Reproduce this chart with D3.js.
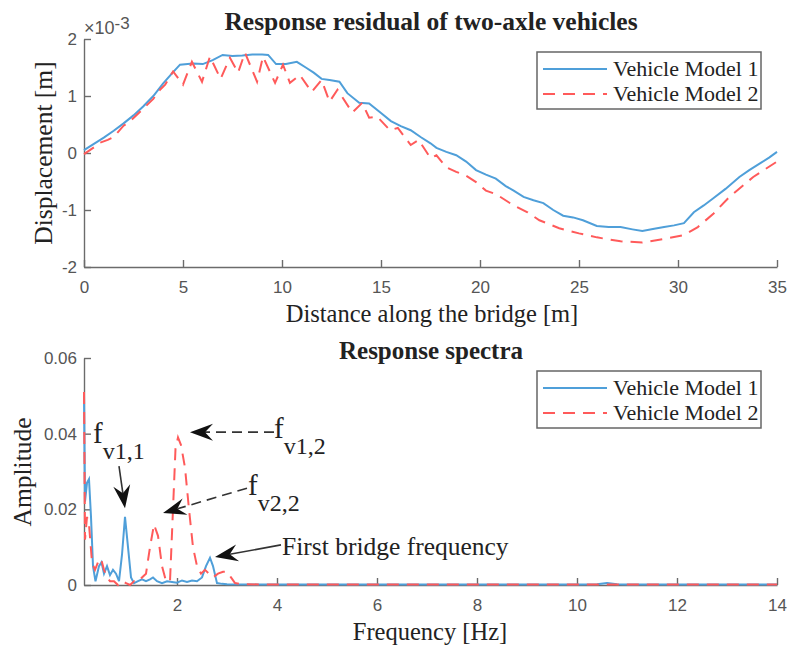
<!DOCTYPE html>
<html><head><meta charset="utf-8">
<script src="https://cdn.jsdelivr.net/npm/d3@7"></script>
<style>
body{margin:0;background:#fff;}
svg{display:block;}
.tick text{font-family:"Liberation Sans",Arial,sans-serif;font-size:17px;fill:#555;}
.serif{font-family:"Liberation Serif","Times New Roman",serif;fill:#222;}
</style></head>
<body>
<svg id="c" width="792" height="650"></svg>
<script>
// ---------- Top chart data (displacement in units of 1e-3 m) ----------
const seriesNames = ["Vehicle Model 1", "Vehicle Model 2"];
const distX1 = [0,0.5,1,1.5,2,2.5,3,3.5,4,4.5,4.85,5.5,6,6.5,7,7.5,8,8.5,9,9.3,9.7,10.2,10.75,11.2,11.6,12,12.4,12.9,13.3,13.9,14.4,15,15.5,16,16.5,17,17.5,17.8,18.3,18.8,19.3,19.8,20.3,20.8,21.3,21.7,22.2,22.7,23.2,23.7,24.2,24.7,25.2,25.9,26.5,27.1,27.7,28.2,28.8,29.3,29.8,30.3,30.8,31.3,31.8,32.4,33.1,33.6,34.2,34.6,35];
const dispY1 = [0.05,0.16,0.27,0.39,0.52,0.66,0.82,1.0,1.22,1.42,1.55,1.57,1.56,1.63,1.72,1.70,1.71,1.73,1.73,1.72,1.56,1.56,1.60,1.50,1.41,1.30,1.28,1.25,1.05,0.88,0.87,0.70,0.56,0.47,0.40,0.28,0.17,0.09,0.02,-0.04,-0.15,-0.30,-0.38,-0.45,-0.58,-0.66,-0.77,-0.83,-0.88,-1.00,-1.10,-1.13,-1.18,-1.28,-1.30,-1.30,-1.34,-1.37,-1.33,-1.30,-1.27,-1.23,-1.04,-0.92,-0.79,-0.63,-0.42,-0.30,-0.17,-0.08,0.02];
const distX2 = [0,0.5,0.8,1.2,1.5,2,2.3,2.7,3,3.5,3.84,4.1,4.5,5.0,5.45,5.96,6.36,6.9,7.37,7.78,8.13,8.74,9.04,9.65,10.05,10.4,10.9,11.5,12.0,12.4,12.8,13.55,14.05,14.4,14.8,15.45,15.85,16.5,16.9,17.5,17.8,18.3,18.8,19.3,19.8,20.3,20.8,21.7,22.4,23.0,24.0,25.0,25.9,27.1,28.2,29.4,30.3,31.0,31.8,32.6,33.8,35];
const dispY2 = [-0.02,0.10,0.18,0.23,0.28,0.48,0.55,0.68,0.78,0.95,1.11,1.20,1.43,1.20,1.60,1.25,1.69,1.30,1.67,1.41,1.76,1.25,1.69,1.23,1.55,1.23,1.37,1.07,1.28,0.90,1.11,0.71,0.88,0.62,0.64,0.40,0.44,0.14,0.23,-0.09,-0.04,-0.25,-0.33,-0.40,-0.51,-0.66,-0.72,-0.92,-1.04,-1.18,-1.32,-1.41,-1.48,-1.55,-1.57,-1.50,-1.44,-1.30,-1.06,-0.77,-0.42,-0.15];
const topXTicks = [0,5,10,15,20,25,30,35];
const topYTicks = [-2,-1,0,1,2];

// ---------- Bottom chart data (amplitude spectra) ----------
const freq1 = [0.14,0.16,0.20,0.24,0.28,0.32,0.37,0.44,0.49,0.54,0.60,0.66,0.72,0.78,0.84,0.90,0.96,1.02,1.08,1.14,1.22,1.30,1.38,1.46,1.52,1.60,1.70,1.80,1.90,2.00,2.10,2.20,2.30,2.40,2.50,2.58,2.66,2.72,2.80,2.90,3.00,4.0,6.0,8.0,10.0,10.4,10.6,10.8,11.0,12.0,14.0];
const amp1 = [0.050,0.022,0.027,0.028,0.018,0.005,0.001,0.005,0.006,0.003,0.005,0.0026,0.004,0.003,0.001,0.008,0.018,0.010,0.002,0.0005,0.001,0.0015,0.001,0.0015,0.002,0.001,0.0005,0.001,0.0008,0.0006,0.0012,0.0008,0.0012,0.001,0.002,0.005,0.0072,0.005,0.0005,0.0003,0.0002,0.0001,0.0001,0.0001,0.0001,0.0002,0.0005,0.0002,0.0001,0.0001,0.0001];
const freq2 = [0.14,0.16,0.20,0.24,0.30,0.36,0.42,0.48,0.54,0.60,0.66,0.74,0.82,0.90,0.98,1.06,1.14,1.22,1.30,1.38,1.46,1.54,1.62,1.70,1.78,1.86,1.92,1.97,2.02,2.08,2.16,2.24,2.32,2.40,2.48,2.56,2.64,2.72,2.82,2.92,3.00,3.08,3.16,3.30,4.0,6.0,8.0,10.0,12.0,14.0];
const amp2 = [0.051,0.012,0.018,0.016,0.006,0.004,0.006,0.007,0.004,0.002,0.001,0.001,0.0,0.001,0.0005,0.0,0.001,0.0008,0.002,0.003,0.010,0.016,0.013,0.005,0.001,0.001,0.020,0.036,0.039,0.037,0.031,0.020,0.010,0.005,0.003,0.004,0.003,0.002,0.003,0.0035,0.0035,0.002,0.0005,0.0002,0.0001,0.0001,0.0001,0.0001,0.0001,0.0001];
const botXTicks = [2,4,6,8,10,12,14];
const botYTicks = [0,0.02,0.04,0.06];

const annLabels = ["f","f","f","First bridge frequency"];
const annSubs = ["v1,1","v1,2","v2,2",""];

const svg = d3.select("#c");
const BLUE = "#4f9fd9", RED = "#ff5a5a", AX = "#6b6b6b";

function styleAxis(g){
  g.select(".domain").attr("stroke", AX).attr("stroke-width", 1.4);
  g.selectAll(".tick line").attr("stroke", AX).attr("stroke-width", 1.4);
}

function legend(x0, y0){
  const g = svg.append("g");
  g.append("rect").attr("x", x0).attr("y", y0).attr("width", 224).attr("height", 57)
    .attr("fill", "#fff").attr("stroke", "#666").attr("stroke-width", 1.5);
  [[BLUE, null], [RED, "12,8"]].forEach((s, i) => {
    const yy = y0 + 17 + i * 25;
    g.append("line").attr("x1", x0 + 6).attr("x2", x0 + 70).attr("y1", yy).attr("y2", yy)
      .attr("stroke", s[0]).attr("stroke-width", 2).attr("stroke-dasharray", s[1]);
    g.append("text").attr("class", "serif").attr("x", x0 + 76).attr("y", yy + 7)
      .attr("font-size", 22).text(seriesNames[i]);
  });
}

// ---------------- TOP ----------------
const xT = d3.scaleLinear([0, 35], [84, 777]);
const yT = d3.scaleLinear([-2, 2], [267, 39]);

const gxT = svg.append("g").attr("transform", `translate(0,${yT(-2)})`)
  .call(d3.axisBottom(xT).tickValues(topXTicks).tickFormat(d => String(d)).tickSizeInner(-7).tickSizeOuter(0).tickPadding(14));
styleAxis(gxT);
const gyT = svg.append("g").attr("transform", `translate(${xT(0)},0)`)
  .call(d3.axisLeft(yT).tickValues(topYTicks).tickFormat(d => String(d)).tickSizeInner(-7).tickSizeOuter(0).tickPadding(7));
styleAxis(gyT);

const lineT = d3.line().x(d => xT(d[0])).y(d => yT(d[1]));
svg.append("path").datum(d3.zip(distX1, dispY1)).attr("d", lineT)
  .attr("fill", "none").attr("stroke", BLUE).attr("stroke-width", 2);
svg.append("path").datum(d3.zip(distX2, dispY2)).attr("d", lineT)
  .attr("fill", "none").attr("stroke", RED).attr("stroke-width", 2).attr("stroke-dasharray", "12,8");

svg.append("text").attr("class", "serif").attr("x", 431).attr("y", 30).attr("text-anchor", "middle")
  .attr("font-size", 25.5).attr("font-weight", "bold").text("Response residual of two-axle vehicles");
const ex = svg.append("text").attr("x", 84).attr("y", 34)
  .attr("font-family", "Liberation Sans, Arial, sans-serif").attr("fill", "#555").attr("font-size", 18);
ex.append("tspan").text("×10");
ex.append("tspan").attr("font-size", 17).attr("dy", -5).text("-3");
svg.append("text").attr("class", "serif").attr("x", 432).attr("y", 322).attr("text-anchor", "middle")
  .attr("font-size", 24.5).text("Distance along the bridge [m]");
svg.append("text").attr("class", "serif").attr("transform", `translate(52,153) rotate(-90)`)
  .attr("text-anchor", "middle").attr("font-size", 25.5).text("Displacement [m]");
legend(537, 52);

// ---------------- BOTTOM ----------------
const xB = d3.scaleLinear([0.14, 14], [84, 777]);
const yB = d3.scaleLinear([0, 0.06], [585, 358]);

const gxB = svg.append("g").attr("transform", `translate(0,${yB(0)})`)
  .call(d3.axisBottom(xB).tickValues(botXTicks).tickFormat(d => String(d)).tickSizeInner(-7).tickSizeOuter(0).tickPadding(14));
styleAxis(gxB);
const gyB = svg.append("g").attr("transform", `translate(${xB(0.14)},0)`)
  .call(d3.axisLeft(yB).tickValues(botYTicks).tickFormat(d => d === 0 ? "0" : d3.format(".2f")(d))
    .tickSizeInner(-7).tickSizeOuter(0).tickPadding(7));
styleAxis(gyB);

const lineB = d3.line().x(d => xB(d[0])).y(d => yB(d[1]));
svg.append("path").datum(d3.zip(freq1, amp1)).attr("d", lineB)
  .attr("fill", "none").attr("stroke", BLUE).attr("stroke-width", 2);
svg.append("path").datum(d3.zip(freq2, amp2)).attr("d", lineB)
  .attr("fill", "none").attr("stroke", RED).attr("stroke-width", 2).attr("stroke-dasharray", "12,8");

svg.append("text").attr("class", "serif").attr("x", 431).attr("y", 359).attr("text-anchor", "middle")
  .attr("font-size", 25).attr("font-weight", "bold").text("Response spectra");
svg.append("text").attr("class", "serif").attr("x", 430).attr("y", 640).attr("text-anchor", "middle")
  .attr("font-size", 24.5).text("Frequency [Hz]");
svg.append("text").attr("class", "serif").attr("transform", `translate(31,472) rotate(-90)`)
  .attr("text-anchor", "middle").attr("font-size", 25.5).text("Amplitude");
legend(537, 371);

// annotations (data coordinates of the lower chart)
const annText = [[0.32, 0.0375], [3.94, 0.0388], [3.42, 0.0238], [4.1, 0.0079]];
const annTail = [[0.84, 0.0314], [3.94, 0.0404], [3.4, 0.0256], [4.08, 0.0106]];
const annTip = [[0.96, 0.0203], [2.26, 0.0404], [1.72, 0.0190], [2.76, 0.0074]];
const annDashed = [false, true, true, false];

function arrow(x1, y1, x2, y2, dashed){
  const ang = Math.atan2(y2 - y1, x2 - x1);
  const L = 23, W = 8.5, N = 15;
  const ca = Math.cos(ang), sa = Math.sin(ang);
  const pt = (a, b) => [x2 - a * ca - b * (-sa), y2 - a * sa - b * ca];
  svg.append("line").attr("x1", x1).attr("y1", y1)
    .attr("x2", pt(N, 0)[0]).attr("y2", pt(N, 0)[1])
    .attr("stroke", "#333").attr("stroke-width", 1.6).attr("stroke-dasharray", dashed ? "10,6" : null);
  const p = [pt(0, 0), pt(L, W), pt(N, 0), pt(L, -W)];
  svg.append("path").attr("d", "M" + p.map(q => q.join(",")).join("L") + "Z").attr("fill", "#111");
}

annLabels.forEach((lab, i) => {
  arrow(xB(annTail[i][0]), yB(annTail[i][1]), xB(annTip[i][0]), yB(annTip[i][1]), annDashed[i]);
  const t = svg.append("text").attr("class", "serif").attr("x", xB(annText[i][0])).attr("y", yB(annText[i][1]))
    .attr("font-size", lab.length > 1 ? 25.5 : 29);
  t.append("tspan").text(lab);
  if (annSubs[i]) t.append("tspan").attr("font-size", 24).attr("dy", 16).text(annSubs[i]);
});
</script>
</body></html>
